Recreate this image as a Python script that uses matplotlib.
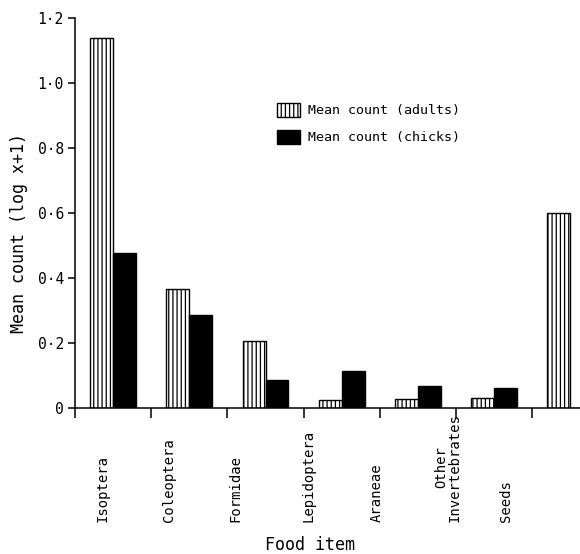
import numpy as np
import matplotlib
matplotlib.use('Agg')
import matplotlib.pyplot as plt
import matplotlib.transforms as mtransforms
from matplotlib.ticker import FuncFormatter

# values (log x+1)
categories = ['Isoptera', 'Coleoptera', 'Formidae', 'Lepidoptera', 'Araneae',
              'Other\nInvertebrates', 'Seeds']
adults = [1.137, 0.365, 0.207, 0.025, 0.027, 0.030, 0.599]
chicks = [0.476, 0.286, 0.086, 0.115, 0.068, 0.061, 0.0]
yticks = [0, 0.2, 0.4, 0.6, 0.8, 1.0, 1.2]

# the category labels in the original sit a bit left of the bar groups
label_x = [0.36, 1.23, 2.11, 3.07, 3.96, 4.90, 5.66]

plt.rcParams['font.family'] = ['DejaVu Sans Mono', 'DejaVu Sans']
plt.rcParams['hatch.linewidth'] = 0.9

W, H = 580, 554
fig = plt.figure(figsize=(W / 100, H / 100), dpi=100)
ax = fig.add_axes([75 / W, 1 - 408 / H, 505 / W, 390 / H])

x = np.arange(len(categories)) + 0.5
bw = 0.3
ax.bar(x - bw / 2, adults, bw, facecolor='white', edgecolor='black',
       hatch='||||', linewidth=1.0, label='Mean count (adults)')
ax.bar(x + bw / 2, chicks, bw, facecolor='black', edgecolor='black',
       linewidth=1.0, label='Mean count (chicks)')

ax.set_xlim(0, 505 / 76.2)
ax.set_ylim(0, 1.2)
ax.set_yticks(yticks)
ax.yaxis.set_major_formatter(FuncFormatter(
    lambda v, p: '0' if abs(v) < 1e-9 else f'{v:.1f}'.replace('.', '\u00b7')))
ax.set_xticks(np.arange(len(categories)))
ax.set_xticklabels([])

for s in ['top', 'right']:
    ax.spines[s].set_visible(False)
for s in ['left', 'bottom']:
    ax.spines[s].set_linewidth(1.1)
ax.tick_params(axis='x', direction='out', length=7, width=1.1)
ax.tick_params(axis='y', direction='out', length=5, width=1.1, labelsize=10.5, pad=3)

trans = mtransforms.blended_transform_factory(ax.transData, fig.transFigure)
for lx, name in zip(label_x, categories):
    ax.text(lx, 1 - 522 / H, name, transform=trans, rotation=90,
            rotation_mode='anchor', ha='left', va='center',
            multialignment='center', fontsize=10, linespacing=0.95)

fig.text(310 / W, 1 - 545 / H, 'Food item', ha='center', va='center', fontsize=12)
fig.text(19 / W, 1 - 233 / H, 'Mean count (log x+1)', rotation=90,
         ha='center', va='center', fontsize=12)

ax.legend(loc='upper left', bbox_to_anchor=(277 / W, 1 - 103 / H),
          bbox_transform=fig.transFigure, frameon=False, fontsize=9.6,
          borderpad=0, borderaxespad=0, handlelength=1.7, handleheight=1.2,
          handletextpad=0.6, labelspacing=0.95)

fig.savefig('out.png', dpi=100)
